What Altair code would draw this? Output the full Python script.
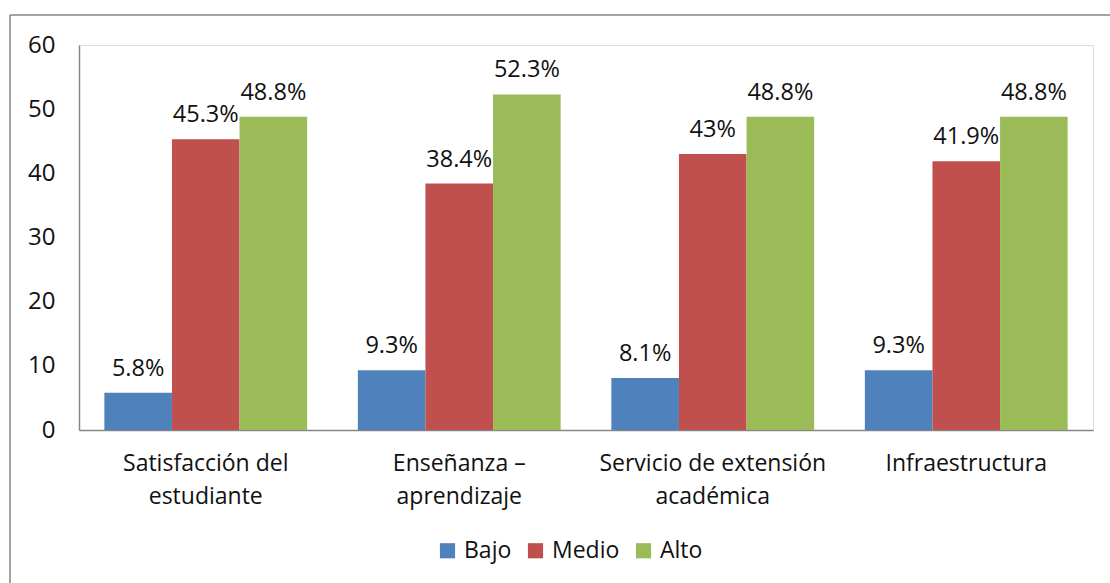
import altair as alt
import pandas as pd

categories = ["Satisfacción del estudiante", "Enseñanza – aprendizaje",
              "Servicio de extensión académica", "Infraestructura"]
label_lines = {
    "Satisfacción del estudiante": ["Satisfacción del", "estudiante"],
    "Enseñanza – aprendizaje": ["Enseñanza –", "aprendizaje"],
    "Servicio de extensión académica": ["Servicio de extensión", "académica"],
    "Infraestructura": ["Infraestructura"],
}
series = ["Bajo", "Medio", "Alto"]
bajo = [5.8, 9.3, 8.1, 9.3]
medio = [45.3, 38.4, 43.0, 41.9]
alto = [48.8, 52.3, 48.8, 48.8]
colors = ["#4F81BD", "#C0504D", "#9BBB59"]

rows = []
for i, c in enumerate(categories):
    for s, vals in zip(series, [bajo, medio, alto]):
        rows.append({"cat": c, "serie": s, "v": vals[i]})
df = pd.DataFrame(rows)

FONT = "Open Sans"
TXT = "#111111"

expr_parts = []
for c, lines in label_lines.items():
    arr = "[" + ",".join("'" + l + "'" for l in lines) + "]"
    expr_parts.append(f"datum.label == '{c}' ? {arr}")
label_expr = " : ".join(expr_parts) + " : datum.label"

x = alt.X("cat:N", sort=categories, title=None,
          scale=alt.Scale(paddingInner=0.2, paddingOuter=0.1),
          axis=alt.Axis(labelAngle=0, labelExpr=label_expr, labelFontSize=23,
                        labelFont=FONT, labelColor=TXT, labelPadding=22,
                        labelLineHeight=33, ticks=False, domainColor="#868686",
                        domainWidth=1.5, labelLimit=400))
xo = alt.XOffset("serie:N", sort=series)
y = alt.Y("v:Q", title=None,
          scale=alt.Scale(domain=[0, 60], nice=False),
          axis=alt.Axis(values=[0, 10, 20, 30, 40, 50, 60], grid=False, ticks=False,
                        labelFontSize=24, labelFont=FONT, labelColor=TXT,
                        labelPadding=24, domainColor="#868686", domainWidth=1.5))

base = alt.Chart(df)
bars = base.mark_bar().encode(
    x=x, xOffset=xo, y=y,
    color=alt.Color("serie:N", sort=series,
                    scale=alt.Scale(domain=series, range=colors),
                    legend=alt.Legend(title=None, orient="none", direction="horizontal",
                                      legendX=357, legendY=494, labelFontSize=23,
                                      labelFont=FONT, labelColor=TXT,
                                      symbolType="square", symbolSize=230,
                                      symbolStrokeWidth=0, columnPadding=12,
                                      labelOffset=5)),
)
texts = base.transform_calculate(lbl="datum.v + '%'").mark_text(
    baseline="bottom", dy=-12, fontSize=23.5, font=FONT, color=TXT
).encode(x=x, xOffset=xo, y=y, text="lbl:N")

frame_left = alt.Chart(pd.DataFrame({"a": [0]})).mark_rule(
    color="#868686", strokeWidth=1.5).encode(
    x=alt.value(-69), y=alt.value(-30), y2=alt.value(700))
frame_top = alt.Chart(pd.DataFrame({"a": [0]})).mark_rule(
    color="#868686", strokeWidth=1.5).encode(
    x=alt.value(-69), x2=alt.value(1200), y=alt.value(-30))

chart = alt.layer(bars, texts, frame_left, frame_top).properties(
    width=1014, height=385,
    autosize=alt.AutoSizeParams(type="none"),
    padding={"left": 79, "top": 45, "right": 17, "bottom": 153},
).configure_view(stroke=None).configure(background="white")

chart.save("out.html", embed_options={"renderer": "svg", "actions": False})
